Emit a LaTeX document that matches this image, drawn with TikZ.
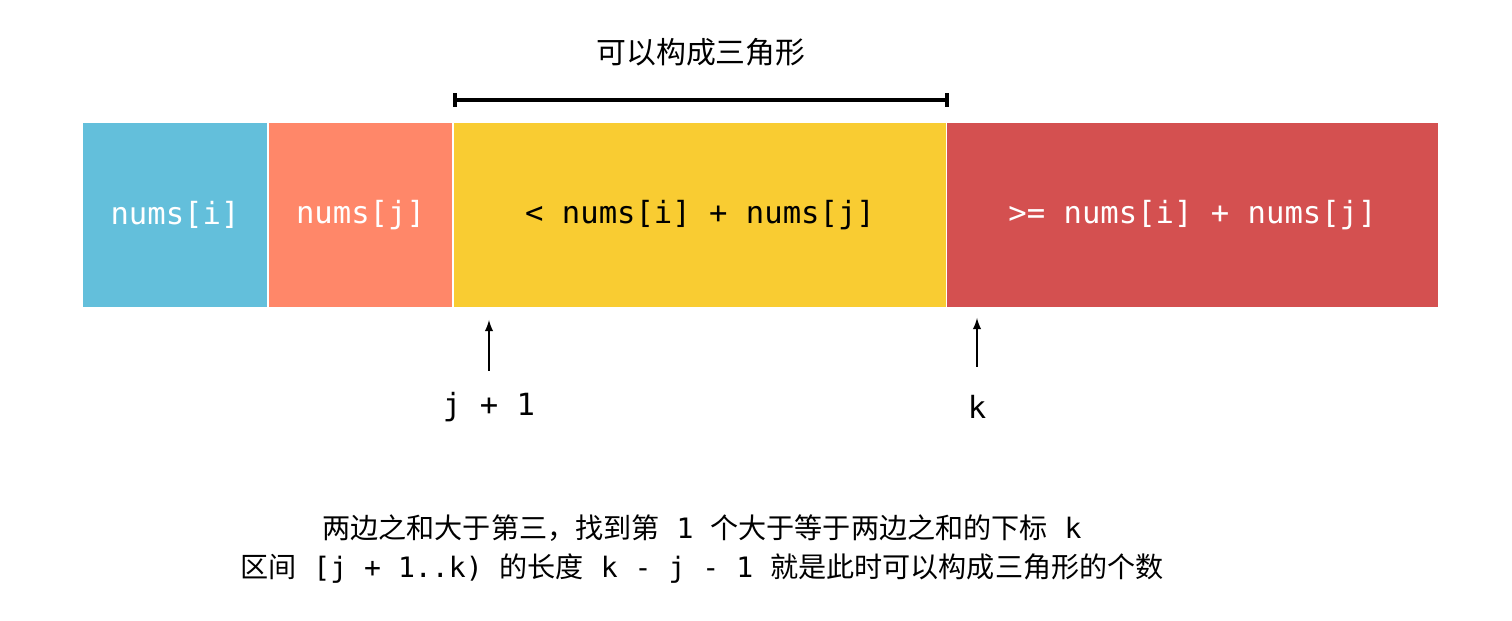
\documentclass[tikz,border=0pt]{standalone}
\usepackage{fontspec}
\setmonofont{DejaVu Sans Mono}
\newfontfamily\cjk{Noto Sans CJK SC}
\usetikzlibrary{arrows}
\definecolor{cblue}{HTML}{63BFDB}
\definecolor{csalmon}{HTML}{FF8769}
\definecolor{cyellow}{HTML}{F9CC32}
\definecolor{cred}{HTML}{D45050}
\newcommand{\asc}[1]{{\ttfamily #1}}
\tikzstyle{cell} = [
    rectangle,
    minimum height=3.68cm,
    inner sep=0pt,
    text=white,
    font=\ttfamily\fontsize{17.4}{20}\selectfont
]
\tikzstyle{label} = [
    font=\ttfamily\fontsize{17.4}{20}\selectfont
]
\tikzstyle{note} = [
    font=\cjk\fontsize{16}{22}\selectfont,
    align=center
]
\tikzstyle{arrow} = [
    line width=1.2pt,
    ->,
    >=latex
]
\begin{document}
\begin{tikzpicture}[x=0.02cm, y=-0.02cm]
        \useasboundingbox[fill=white] (0,0) rectangle (1512,621);
        \node (ci) [cell, fill=cblue, minimum width=3.68cm] at (175,215) {nums[i]};
        \node (cj) [cell, fill=csalmon, minimum width=3.68cm] at (360.5,215) {nums[j]};
        \node (mid) [cell, fill=cyellow, minimum width=9.84cm, text=black] at (700,215) {< nums[i] + nums[j]};
        \node (big) [cell, fill=cred, minimum width=9.82cm] at (1192.5,215) {>= nums[i] + nums[j]};

        % bracket over the middle part
        \coordinate (bl) at (455,100);
        \coordinate (br) at (947,100);
        \draw[line width=2.5pt] (bl) -- (br);
        \draw[line width=2pt] ([yshift=-0.14cm]bl) -- ([yshift=0.14cm]bl);
        \draw[line width=2pt] ([yshift=-0.14cm]br) -- ([yshift=0.14cm]br);
        \node (title) [note, font=\cjk\fontsize{17}{22}\selectfont] at (701,52) {可以构成三角形};

        \node (lo) [label] at (489,407) {j + 1};
        \node (hi) [label] at (977,407) {k};
        \coordinate (loTip) at (489,320);
        \coordinate (hiTip) at (977,318);
        \coordinate (loTail) at (489,371);
        \coordinate (hiTail) at (977,367);
        \draw[arrow] (loTail) -- (loTip);
        \draw[arrow] (hiTail) -- (hiTip);

        \node (desc) [note] at (702,549) {两边之和大于第三，找到第\asc{ 1 }个大于等于两边之和的下标\asc{ k}\\区间\asc{ [j + 1..k) }的长度\asc{ k - j - 1 }就是此时可以构成三角形的个数};
    \end{tikzpicture}
\end{document}
